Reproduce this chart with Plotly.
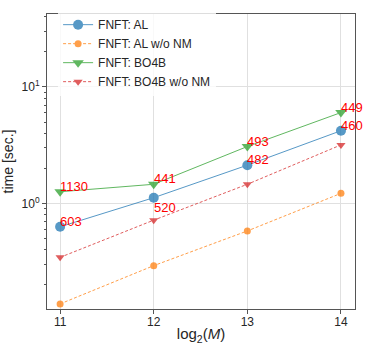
import plotly.graph_objects as go
import numpy as np

log2_M = [11, 12, 13, 14]
t_al = [0.63, 1.12, 2.13, 4.21]
t_al_nonm = [0.137, 0.292, 0.58, 1.22]
t_bo4b = [1.26, 1.46, 3.08, 6.03]
t_bo4b_nonm = [0.344, 0.718, 1.46, 3.18]

# red numbers written next to the points
lbl_top = ["1130", "441", "493", "449"]
lbl_top_y = [1.26, 1.46, 3.08, 6.03]
lbl_mid = ["603", "520", "482", "460"]
lbl_mid_y = [0.63, 0.82, 2.13, 4.21]

fig = go.Figure()

def add_series(y, name, color, symbol, dash, msize):
    fig.add_trace(go.Scatter(
        x=log2_M, y=y, name=name, mode="lines+markers",
        line=dict(color=color, width=1, dash=dash),
        marker=dict(symbol=symbol, size=msize, color=color),
        opacity=0.75,
    ))

add_series(t_al, "FNFT: AL", "#1f77b4", "circle", "solid", 10)
add_series(t_al_nonm, "FNFT: AL w/o NM", "#ff7f0e", "circle", "3px,2px", 7)
add_series(t_bo4b, "FNFT: BO4B", "#2ca02c", "triangle-down", "solid", 10)
add_series(t_bo4b_nonm, "FNFT: BO4B w/o NM", "#d62728", "triangle-down", "3px,2px", 8)

for ys, ts in [(lbl_top_y, lbl_top), (lbl_mid_y, lbl_mid)]:
    for x, y, t in zip(log2_M, ys, ts):
        fig.add_annotation(x=x, y=np.log10(y), text=t, showarrow=False,
                           xanchor="left", yanchor="bottom", xshift=-2, yshift=-4,
                           font=dict(color="red", size=13))

axis_common = dict(showline=True, mirror=True, linecolor="#555555", linewidth=1,
                   ticks="outside", ticklen=4, tickcolor="#555555",
                   gridcolor="#e0e0e0", zeroline=False, automargin=False,
                   tickfont=dict(size=12, color="#262626"))

fig.update_xaxes(range=[10.86, 14.15], tickvals=log2_M, ticklabelstandoff=-2,
                 title=dict(text="log<sub>2</sub>(<i>M</i>)", font=dict(size=15, color="#262626"), standoff=0),
                 **axis_common)
fig.update_yaxes(type="log", range=[-0.907, 1.627],
                 tickvals=[1, 10], ticktext=["10<sup>0</sup>", "10<sup>1</sup>"],
                 minor=dict(tickmode="array",
                            tickvals=[0.2, 0.3, 0.4, 0.5, 0.6, 0.7, 0.8, 0.9,
                                      2, 3, 4, 5, 6, 7, 8, 9, 20, 30, 40],
                            ticks="outside", ticklen=2, tickcolor="#555555", showgrid=False),
                 title=dict(text="time [sec.]", font=dict(size=14, color="#262626"), standoff=8),
                 **axis_common)

fig.update_layout(
    width=369, height=350,
    margin=dict(l=47, r=14, t=10, b=41),
    plot_bgcolor="white", paper_bgcolor="white",
    font=dict(family="Liberation Sans, Arial, sans-serif"),
    legend=dict(x=0.036, y=1.013, xanchor="left", yanchor="top",
                bgcolor="rgba(255,255,255,0.8)", font=dict(size=12, color="#262626"),
                tracegroupgap=0),
)

# drop the default page margin so the figure fills the window exactly
fig.write_html("out.html", config={"displayModeBar": False},
               post_script="document.body.style.margin='0';")
